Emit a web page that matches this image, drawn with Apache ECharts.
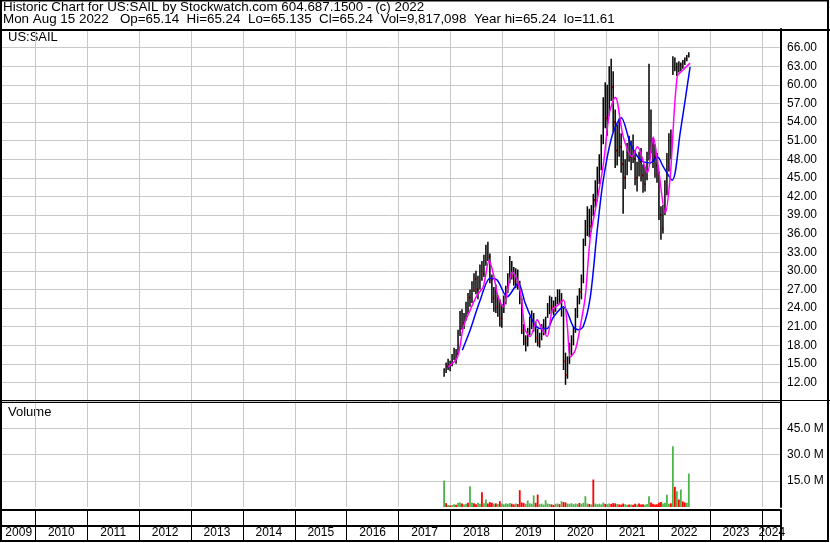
<!DOCTYPE html>
<html>
<head>
<meta charset="utf-8">
<script src="https://cdn.jsdelivr.net/npm/echarts@6/dist/echarts.min.js"></script>
<style>
  html, body { margin: 0; padding: 0; background: #fff; }
  #chart { width: 830px; height: 543px; }
</style>
</head>
<body>
<div id="chart"></div>
<script>
// bars: two-week OHLC-ish bars starting at the IPO
const barStart = '2017-11-17';
const barStepDays = 14;
const barHigh = [14.3,15.2,15.8,15.5,16.6,17.6,17.4,20.5,23.5,23.8,
  23.2,25.0,26.4,27.0,28.3,29.6,30.0,29.2,31.0,31.6,
  32.6,34.2,34.7,32.8,29.4,27.4,27.8,26.0,25.4,24.6,
  26.0,27.6,29.6,32.4,31.6,30.6,30.4,30.2,28.4,25.6,
  21.4,19.6,20.8,22.6,23.6,23.2,21.8,20.6,20.0,21.4,
  22.2,22.6,24.8,26.0,25.8,25.2,25.8,27.0,27.0,26.4,
  24.0,16.8,16.2,18.4,19.6,21.0,24.0,26.0,27.2,29.4,
  35.2,38.2,40.4,40.0,40.6,42.4,44.6,46.8,48.8,52.0,
  58.0,60.4,60.0,63.0,64.2,62.2,56.0,53.6,54.6,52.2,
  49.4,48.0,50.6,51.8,51.0,52.0,49.4,47.6,49.2,49.8,
  47.2,46.8,49.2,63.4,56.0,51.4,50.4,49.0,46.0,40.4,
  40.6,44.6,49.0,52.2,52.8,64.6,64.4,63.6,63.8,63.6,
  64.0,64.4,64.8,65.24];
const barLow = [12.9,13.5,14.0,13.8,14.6,15.6,15.0,16.4,19.5,20.5,
  20.6,22.0,23.0,24.2,24.8,26.6,26.2,25.4,27.0,28.4,
  29.0,30.8,31.6,28.0,24.8,23.4,23.2,22.6,21.0,20.8,
  23.2,24.6,26.4,28.0,28.6,27.6,27.2,27.0,24.6,19.8,
  18.0,17.0,17.8,19.6,20.6,20.2,18.4,17.8,17.6,18.8,
  19.6,19.8,22.4,23.0,23.2,22.8,23.4,24.6,24.6,22.6,
  14.0,11.61,12.6,15.0,16.4,18.0,20.0,22.4,24.6,25.4,
  28.0,34.0,35.6,35.4,36.2,38.8,40.2,41.2,44.0,46.2,
  50.4,53.0,51.8,55.0,57.4,52.4,46.6,47.0,48.4,45.8,
  39.2,43.2,45.4,47.6,46.2,47.4,43.8,42.8,45.2,44.4,
  42.6,42.8,44.6,47.8,49.0,46.6,45.0,44.2,38.2,35.0,
  36.0,39.0,42.2,46.0,48.0,61.6,62.2,61.4,62.0,62.2,
  62.6,63.2,63.8,64.4];
const barClose = [13.9,14.6,14.4,14.8,16.2,16.8,16.6,19.8,22.6,21.5,
  22.3,24.4,25.7,25.2,27.9,28.7,27.0,28.4,30.2,29.5,
  32.0,33.4,32.3,28.6,25.6,26.2,24.2,25.0,22.3,23.6,
  25.4,27.0,28.9,30.6,29.2,28.4,29.8,27.6,25.4,20.4,
  18.6,18.2,20.3,21.8,22.4,21.0,19.2,18.4,19.6,20.8,
  21.4,22.2,24.0,25.2,24.2,23.6,25.4,26.2,25.0,23.2,
  15.4,13.2,15.6,17.6,18.9,20.4,23.6,25.2,26.6,28.8,
  34.6,37.0,39.0,37.2,39.8,41.4,43.6,45.6,47.2,51.0,
  57.0,54.6,57.8,61.0,59.6,54.0,49.4,51.4,50.0,47.2,
  45.0,46.6,49.6,48.4,50.2,48.0,45.0,46.8,47.6,45.4,
  44.0,45.8,48.6,57.0,50.2,48.4,47.0,45.4,39.0,36.8,
  39.6,43.0,47.4,51.0,50.6,63.8,62.8,62.4,63.2,63.0,
  63.6,64.2,64.6,65.24];
// volume in millions, and 1 = up (green) / 0 = down (red)
const volume = [15.1,2.2,1.2,0.9,1.1,1.6,1.3,2.4,2.6,2.0,
  1.4,1.8,2.5,11.9,2.6,2.2,1.6,2.4,1.9,8.5,
  2.2,4.3,2.0,2.8,2.4,1.9,2.1,1.7,3.3,2.0,
  1.6,2.1,1.8,2.3,1.9,1.5,2.0,1.7,9.6,2.6,
  2.2,1.8,3.7,2.1,1.9,6.6,2.4,7.1,1.6,1.9,
  1.4,3.9,2.0,1.7,1.5,1.2,1.8,2.0,1.6,3.3,
  2.8,2.6,2.0,1.8,2.2,1.6,2.0,1.8,2.3,1.9,
  2.4,6.2,2.0,1.7,1.5,15.7,2.0,1.6,1.9,1.5,
  2.5,1.8,1.6,2.0,1.8,2.2,2.1,1.7,1.5,1.4,
  2.0,1.6,1.3,1.4,1.5,1.3,1.8,1.5,2.0,1.4,
  1.6,1.3,1.7,6.2,2.6,1.8,1.5,1.6,2.4,2.8,
  2.0,2.5,7.0,1.9,2.2,34.7,11.5,9.0,4.3,10.0,
  3.2,2.6,2.4,19.1];
const volUp = [1,0,1,0,1,1,0,1,1,0,
  1,1,0,1,1,0,0,1,1,0,
  1,1,0,0,0,1,0,1,0,1,
  1,1,1,1,0,0,1,0,0,0,
  0,1,1,1,1,1,0,0,1,1,
  1,1,1,1,0,0,1,1,0,1,
  0,0,1,1,1,1,1,1,0,1,
  1,1,1,0,1,0,1,1,1,1,
  1,0,1,1,0,0,0,1,0,0,
  0,1,1,0,1,0,0,1,0,0,
  0,1,1,1,0,0,0,0,0,0,
  1,1,1,1,0,1,0,1,0,1,
  0,0,1,1];
// moving averages
const fastDates = ['2017-12-15','2018-02-18','2018-04-01','2018-05-20','2018-07-08','2018-08-19','2018-09-30','2018-10-28','2018-12-02','2019-01-07',
  '2019-02-11','2019-03-11','2019-04-15','2019-05-13','2019-06-10','2019-07-15','2019-09-02','2019-10-08','2019-11-12','2019-12-18',
  '2020-01-29','2020-03-05','2020-04-02','2020-04-23','2020-05-28','2020-07-02','2020-08-06','2020-09-11','2020-10-16','2020-12-11',
  '2021-01-24','2021-03-06','2021-05-01','2021-07-03','2021-08-08','2021-10-17','2021-11-28','2022-01-02','2022-02-20','2022-03-27',
  '2022-05-15','2022-06-26','2022-08-14'];
const fastMA = [14.5,16.0,20.9,23.7,26.1,27.4,31.7,29.6,25.8,24.2,
  27.4,29.8,28.5,25.8,20.5,19.4,22.1,20.5,19.4,23.7,
  24.5,25.3,21.0,16.1,17.2,21.0,25.8,35.5,39.8,47.0,
  55.5,58.0,51.6,48.4,50.0,45.8,51.6,46.8,39.3,45.2,
  61.3,62.4,63.5];
const slowDates = ['2018-03-25','2018-05-20','2018-07-29','2018-10-07','2018-11-25','2019-02-04','2019-04-22','2019-06-10','2019-08-07','2019-09-24',
  '2019-11-12','2019-12-25','2020-03-05','2020-05-14','2020-06-18','2020-07-23','2020-09-11','2020-10-30','2020-12-11','2021-02-13',
  '2021-04-17','2021-06-19','2021-08-28','2021-11-06','2021-12-26','2022-02-06','2022-04-10','2022-06-05','2022-08-14'];
const slowMA = [17.2,20.5,25.3,28.8,28.5,25.8,28.0,24.8,21.7,20.7,
  20.7,22.5,24.2,21.0,20.5,21.0,25.8,36.6,44.6,51.9,
  54.7,50.6,47.9,47.4,48.4,46.8,44.6,52.2,62.9];
// axis ticks
const yearTicks = [2010,2011,2012,2013,2014,2015,2016,2017,2018,2019,2020,2021,2022,2023,2024];
const yearLabelPos = [2009.68,2010.5,2011.5,2012.5,2013.5,2014.5,2015.5,2016.5,2017.5,2018.5,2019.5,2020.5,2021.5,2022.5,2023.5,2024.19];
const X_MIN = 2009.358, X_MAX = 2024.368;

const FONT = 'Liberation Sans';

function toYear(s) {
  const p = s.split('-').map(Number);
  const t = Date.UTC(p[0], p[1] - 1, p[2]);
  const a = Date.UTC(p[0], 0, 1), b = Date.UTC(p[0] + 1, 0, 1);
  return p[0] + (t - a) / (b - a);
}
function barYear(i) {
  const p = barStart.split('-').map(Number);
  const d = new Date(Date.UTC(p[0], p[1] - 1, p[2]) + i * barStepDays * 86400000);
  return toYear(d.toISOString().slice(0, 10));
}

const ohlc = barHigh.map((h, i) => [barYear(i), h, barLow[i], barClose[i], volUp[i]]);
const volData = volume.map((v, i) => ({
  value: [barYear(i), v * 1e6],
  itemStyle: { color: volUp[i] ? '#4db34d' : '#ff0000' }
}));
const fastData = fastDates.map((d, i) => [toYear(d), fastMA[i]]);
const slowData = slowDates.map((d, i) => [toYear(d), slowMA[i]]);

function xAxisFor(gridIndex, extra) {
  return Object.assign({
    gridIndex: gridIndex, type: 'value', min: X_MIN, max: X_MAX,
    axisLine: { show: false },
    axisTick: { show: false, customValues: yearTicks },
    axisLabel: { show: false },
    splitLine: { show: true, lineStyle: { color: '#c8c8c8', width: 1 } }
  }, extra || {});
}

const myChart = echarts.init(document.getElementById('chart'), null, { renderer: 'canvas' });
const option = {
  animation: false,
  backgroundColor: '#fff',
  grid: [
    { left: 2, top: 29, width: 779, height: 372 },
    { left: 2, top: 402, width: 779, height: 105 },
    { left: 2, top: 510, width: 779, height: 31 }
  ],
  xAxis: [
    xAxisFor(0),
    xAxisFor(1),
    xAxisFor(2, {
      axisLine: { show: true, lineStyle: { color: '#000', width: 2 } },
      splitLine: { show: true, lineStyle: { color: '#000', width: 1 } },
      axisLabel: {
        show: true, inside: true, margin: 2, customValues: yearLabelPos,
        color: '#000', fontSize: 12, fontFamily: FONT,
        formatter: v => String(Math.floor(v))
      }
    })
  ],
  yAxis: [
    {
      gridIndex: 0, type: 'value', position: 'right', min: 9, max: 69, interval: 3,
      axisLine: { show: true, lineStyle: { color: '#000', width: 2 } },
      axisTick: { show: false },
      axisLabel: { color: '#000', fontSize: 12, fontFamily: FONT, margin: 6,
        formatter: v => (v < 10 || v > 67) ? '' : v.toFixed(2) },
      splitLine: { lineStyle: { color: '#c8c8c8', width: 1 } }
    },
    {
      gridIndex: 1, type: 'value', position: 'right', min: 0, max: 60e6, interval: 15e6,
      axisLine: { show: true, lineStyle: { color: '#000', width: 2 } },
      axisTick: { show: false },
      axisLabel: { color: '#000', fontSize: 12, fontFamily: FONT, margin: 6,
        formatter: v => (v <= 0 || v >= 60e6) ? '' : (v / 1e6).toFixed(1) + ' M' },
      splitLine: { showMinLine: false, showMaxLine: false, lineStyle: { color: '#c8c8c8', width: 1 } }
    },
    {
      gridIndex: 2, type: 'value', position: 'right', min: 0, max: 2, interval: 1,
      axisLine: { show: true, lineStyle: { color: '#000', width: 2 } },
      axisTick: { show: false },
      axisLabel: { show: false },
      splitLine: { lineStyle: { color: '#000', width: 2 } }
    }
  ],
  series: [
    {
      type: 'custom', xAxisIndex: 0, yAxisIndex: 0, data: ohlc,
      encode: { x: 0, y: [1, 2, 3] },
      renderItem: function (params, api) {
        const hi = api.coord([api.value(0), api.value(1)]);
        const lo = api.coord([api.value(0), api.value(2)]);
        const cl = api.coord([api.value(0), api.value(3)]);
        const kids = [{
          type: 'rect',
          shape: { x: hi[0] - 0.75, y: hi[1], width: 1.5, height: lo[1] - hi[1] },
          style: { fill: '#000' }
        }];
        if (!api.value(4)) {
          kids.push({
            type: 'rect',
            shape: { x: cl[0] + 0.75, y: cl[1] - 1, width: 1.5, height: 2 },
            style: { fill: '#ff0000' }
          });
        }
        return { type: 'group', children: kids };
      }
    },
    {
      type: 'line', xAxisIndex: 0, yAxisIndex: 0, data: slowData,
      showSymbol: false, smooth: 0.3,
      lineStyle: { color: '#0000ff', width: 1.5 }
    },
    {
      type: 'line', xAxisIndex: 0, yAxisIndex: 0, data: fastData,
      showSymbol: false, smooth: 0.3,
      lineStyle: { color: '#ff00ff', width: 1.5 }
    },
    {
      type: 'bar', xAxisIndex: 1, yAxisIndex: 1, data: volData,
      barWidth: 1.8
    }
  ],
  graphic: [
    { type: 'rect', shape: { x: 1, y: 0.5, width: 827, height: 540.5 }, style: { fill: null, stroke: '#000', lineWidth: 2 }, z: 100 },
    { type: 'line', shape: { x1: 0, y1: 30, x2: 830, y2: 30 }, style: { stroke: '#000', lineWidth: 2 }, z: 100 },
    { type: 'line', shape: { x1: 0, y1: 400.5, x2: 830, y2: 400.5 }, style: { stroke: '#000', lineWidth: 1 }, z: 100 },
    { type: 'line', shape: { x1: 0, y1: 402.5, x2: 781, y2: 402.5 }, style: { stroke: '#000', lineWidth: 1 }, z: 100 },
    { type: 'text', left: 3, top: 1, style: { text: 'Historic Chart for US:SAIL by Stockwatch.com 604.687.1500 - (c) 2022', fill: '#000', font: '13.4px ' + FONT } },
    { type: 'text', left: 3, top: 12.5, style: { text: 'Mon Aug 15 2022   Op=65.14  Hi=65.24  Lo=65.135  Cl=65.24  Vol=9,817,098  Year hi=65.24  lo=11.61', fill: '#000', font: '13.4px ' + FONT } },
    { type: 'text', left: 8, top: 31, style: { text: 'US:SAIL', fill: '#000', font: '13px ' + FONT } },
    { type: 'text', left: 8, top: 406, style: { text: 'Volume', fill: '#000', font: '13px ' + FONT } }
  ]
};
myChart.setOption(option);
window.addEventListener('resize', () => myChart.resize());
</script>
</body>
</html>
